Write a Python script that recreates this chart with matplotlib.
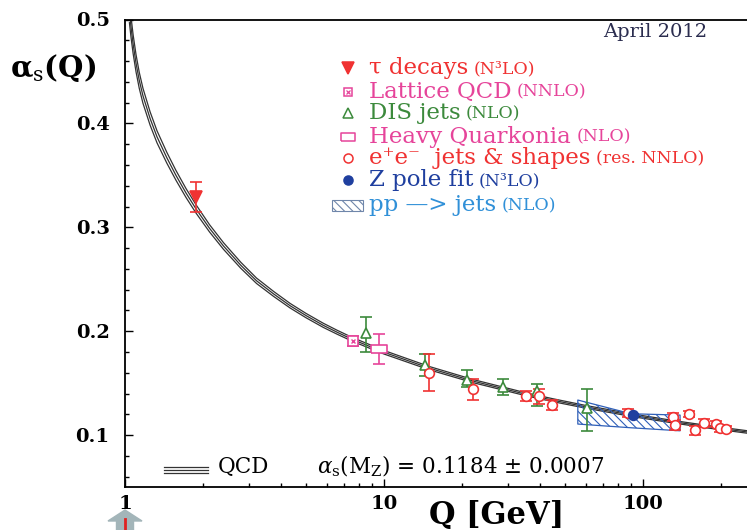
import numpy as np
import matplotlib
matplotlib.use('Agg')
import matplotlib.pyplot as plt
from matplotlib.patches import FancyArrow, Rectangle
from matplotlib.lines import Line2D
from matplotlib.ticker import MultipleLocator, LogLocator, NullFormatter

plt.rcParams['font.family'] = ['DejaVu Serif']
plt.rcParams['mathtext.fontset'] = 'dejavuserif'
plt.rcParams['hatch.linewidth'] = 0.8

# QCD running coupling (central line) and half width of the band
qcd_q = [1.04, 1.055, 1.075, 1.103, 1.135, 1.173, 1.25, 1.329, 1.45, 1.573, 1.72, 1.88,
         2.12, 2.40, 2.8, 3.22, 3.75, 4.34, 5.0, 5.83, 6.6, 7.56, 10.0, 15.0,
         22.1, 35.5, 45.0, 60.9, 91.2, 130.0, 180.0, 252.0]
qcd_a = [0.5074, 0.4926, 0.4762, 0.4579, 0.4415, 0.4266, 0.4047, 0.3871, 0.3670, 0.3500, 0.3330, 0.3177,
         0.2990, 0.2820, 0.2634, 0.2485, 0.2358, 0.2245, 0.2150, 0.2056, 0.1989, 0.192, 0.1797, 0.1643,
         0.1519, 0.1391, 0.1335, 0.1269, 0.119, 0.1129, 0.1078, 0.1030]
qcd_err = [0.0105, 0.0098, 0.009, 0.0083, 0.0077, 0.0072, 0.0064, 0.0058, 0.0052, 0.0047, 0.0043, 0.004,
           0.0035, 0.0032, 0.0029, 0.0026, 0.0024, 0.0022, 0.0021, 0.002, 0.0019, 0.0018, 0.0017, 0.0016,
           0.0015, 0.0014, 0.0014, 0.0013, 0.0013, 0.0012, 0.0012, 0.0012]

# measurements
tau_q = [1.88]
tau_a = [0.329]
tau_lo = [0.014]
tau_hi = [0.015]

lat_q = [7.56]
lat_a = [0.1907]
lat_lo = [0.005]
lat_hi = [0.005]

dis_q = [8.5, 14.4, 20.9, 28.9, 38.9, 60.9]
dis_a = [0.198, 0.1673, 0.153, 0.1465, 0.1426, 0.1257]
dis_lo = [0.018, 0.0103, 0.007, 0.0075, 0.0146, 0.0217]
dis_hi = [0.0157, 0.0107, 0.010, 0.007, 0.0064, 0.0183]

hq_q = [9.55]
hq_a = [0.1827]
hq_lo = [0.0147]
hq_hi = [0.0143]

ee_q = [14.9, 22.1, 35.3, 39.7, 44.4, 87.8, 130.0, 133.0, 150.0, 159.0, 172.0, 192.0, 198.0, 209.0]
ee_a = [0.160, 0.144, 0.138, 0.1375, 0.129, 0.1212, 0.1176, 0.1096, 0.1205, 0.1045, 0.1118, 0.1108, 0.1064, 0.1056]
ee_err = [0.018, 0.010, 0.0048, 0.0072, 0.0048, 0.004, 0.004, 0.005, 0.003, 0.004, 0.004, 0.003, 0.003, 0.003]

z_q = [91.2]
z_a = [0.1193]
z_err = [0.0007]

pp_q = [56.0, 90.0, 139.0]
pp_lo = [0.1106, 0.1070, 0.1041]
pp_hi = [0.1337, 0.1205, 0.1192]

x_ticks = [1, 10, 100]
x_tick_labels = ['1', '10', '100']
y_ticks = [0.1, 0.2, 0.3, 0.4, 0.5]
y_tick_labels = ['0.1', '0.2', '0.3', '0.4', '0.5']

RED = '#f03232'
PINK = '#e6449a'
GREEN = '#3c8a3c'
BLUE = '#1f3f9f'
LBLUE = '#3090d8'

fig = plt.figure(figsize=(7.47, 5.30), dpi=100)
ax = fig.add_axes([125 / 747, 1 - 487 / 530, 622 / 747, 467.5 / 530])
ax.set_xscale('log')
ax.set_xlim(1, 252)
ax.set_ylim(0.05, 0.5)

# QCD band: three lines
qa = np.array(qcd_a)
qe = np.array(qcd_err)
for s in (-1, 0, 1):
    ax.plot(qcd_q, qa + s * qe, color='#333333', lw=0.9, zorder=2)

# pp -> jets hatched band
ax.fill_between(pp_q, pp_lo, pp_hi, facecolor='none', edgecolor='#2f5fb8',
                hatch='\\\\\\\\', lw=0.9, zorder=3)

eb = dict(capsize=4.5, elinewidth=1.2, capthick=1.2, mew=1.2, zorder=4, ls='none')
hq_marker = [(-1, -0.55), (1, -0.55), (1, 0.55), (-1, 0.55), (-1, -0.55)]

ax.errorbar(tau_q, tau_a, yerr=[tau_lo, tau_hi], marker='v', ms=8, color=RED, **eb)
ax.errorbar(lat_q, lat_a, yerr=[lat_lo, lat_hi], marker='s', ms=6.5, color=PINK, mfc='white', **eb)
ax.plot(lat_q, lat_a, 'x', ms=3.5, mew=1.0, color=PINK, zorder=5)
ax.errorbar(dis_q, dis_a, yerr=[dis_lo, dis_hi], marker='^', ms=7, color=GREEN, mfc='white', **eb)
ax.errorbar(hq_q, hq_a, yerr=[hq_lo, hq_hi], marker=hq_marker, ms=11, color=PINK, mfc='white', **eb)
ax.errorbar(ee_q, ee_a, yerr=ee_err, marker='o', ms=7, color=RED, mfc='white', **eb)
ax.errorbar(z_q, z_a, yerr=z_err, marker='o', ms=7, color=BLUE, **eb)

# axes styling
ax.spines['right'].set_visible(False)
for side in ('left', 'bottom', 'top'):
    ax.spines[side].set_linewidth(1.3)
ax.set_xticks(x_ticks, labels=x_tick_labels, fontsize=14, fontweight='bold')
ax.set_yticks(y_ticks, labels=y_tick_labels, fontsize=14, fontweight='bold')
ax.xaxis.set_minor_locator(LogLocator(base=10, subs=np.arange(2, 10)))
ax.xaxis.set_minor_formatter(NullFormatter())
ax.yaxis.set_minor_locator(MultipleLocator(0.02))
ax.tick_params(which='both', direction='in', top=False, right=False, width=1.0)
ax.tick_params(which='major', length=6)
ax.tick_params(which='minor', length=3.2)
ax.tick_params(axis='y', which='major', pad=11)
ax.tick_params(axis='x', which='major', pad=6)

# legend, drawn by hand (mixed font sizes)
legend_rows = [
    ('v', RED, RED, dict(ms=8), 'τ decays', '(N³LO)'),
    ('s', PINK, 'white', dict(ms=6), 'Lattice QCD', '(NNLO)'),
    ('^', GREEN, 'white', dict(ms=6.5), 'DIS jets', '(NLO)'),
    (hq_marker, PINK, 'white', dict(ms=10), 'Heavy Quarkonia', '(NLO)'),
    ('o', RED, 'white', dict(ms=6.5), 'e⁺e⁻  jets & shapes', '(res. NNLO)'),
    ('o', BLUE, BLUE, dict(ms=6.5), 'Z pole fit', '(N³LO)'),
    (None, LBLUE, None, {}, 'pp —> jets', '(NLO)'),
]
row_y = [0.8956, 0.8455, 0.7993, 0.7493, 0.7031, 0.6567, 0.6032]
for (mk, col, mfc, kw, main, suffix), y in zip(legend_rows, row_y):
    if mk is not None:
        ax.plot([0.3585], [y], marker=mk, color=col, mfc=mfc, mew=1.1, ls='none',
                transform=ax.transAxes, clip_on=False, **kw)
        if main.startswith('Lattice'):
            ax.plot([0.3585], [y], marker='x', ms=3, mew=0.9, color=col,
                    transform=ax.transAxes, clip_on=False)
    else:
        ax.add_patch(Rectangle((0.3328, y - 0.0118), 0.0498, 0.0235, transform=ax.transAxes,
                               facecolor='white', edgecolor='#6f86aa', hatch='\\\\\\\\', lw=0.8))
    t = ax.text(0.392, y, main, transform=ax.transAxes, color=col, fontsize=16.5, va='center')
    ax.annotate(suffix, xy=(1, 0), xycoords=t, xytext=(4, 1.5), textcoords='offset points',
                fontsize=12.5, color=col, va='bottom', ha='left')

# QCD key at the bottom
for yk in (0.0428, 0.0364, 0.0300):
    ax.plot([0.0627, 0.1334], [yk, yk], color='#333333', lw=0.9, transform=ax.transAxes)
ax.text(0.1495, 0.030, 'QCD', transform=ax.transAxes, fontsize=15.5, va='baseline')
ax.text(0.3087, 0.030, r'$\alpha_{\rm s}$(M$_{\rm Z}$) = 0.1184 ± 0.0007', transform=ax.transAxes,
        fontsize=15.5, va='baseline')

# labels
fig.text(10 / 747, 1 - 77 / 530, r'α$_{\rm s}$(Q)', fontsize=21, fontweight='bold', va='baseline')
fig.text(497 / 747, 6 / 530, 'Q [GeV]', fontsize=22, fontweight='bold', ha='center', va='baseline')
fig.text(655 / 747, 1 - 37 / 530, 'April 2012', fontsize=14, color='#2b2d4f',
         ha='center', va='baseline')

# arrow under the "1"
fig.add_artist(FancyArrow(1.25, 0.0, 0, 0.2, width=0.17, head_width=0.34, head_length=0.11,
                          length_includes_head=True, color='#a3b5b9',
                          transform=fig.dpi_scale_trans))
fig.add_artist(Line2D([1.25, 1.25], [0.0, 0.11], color='#e02020', lw=2,
                      transform=fig.dpi_scale_trans))

fig.savefig('out.png', dpi=100)
